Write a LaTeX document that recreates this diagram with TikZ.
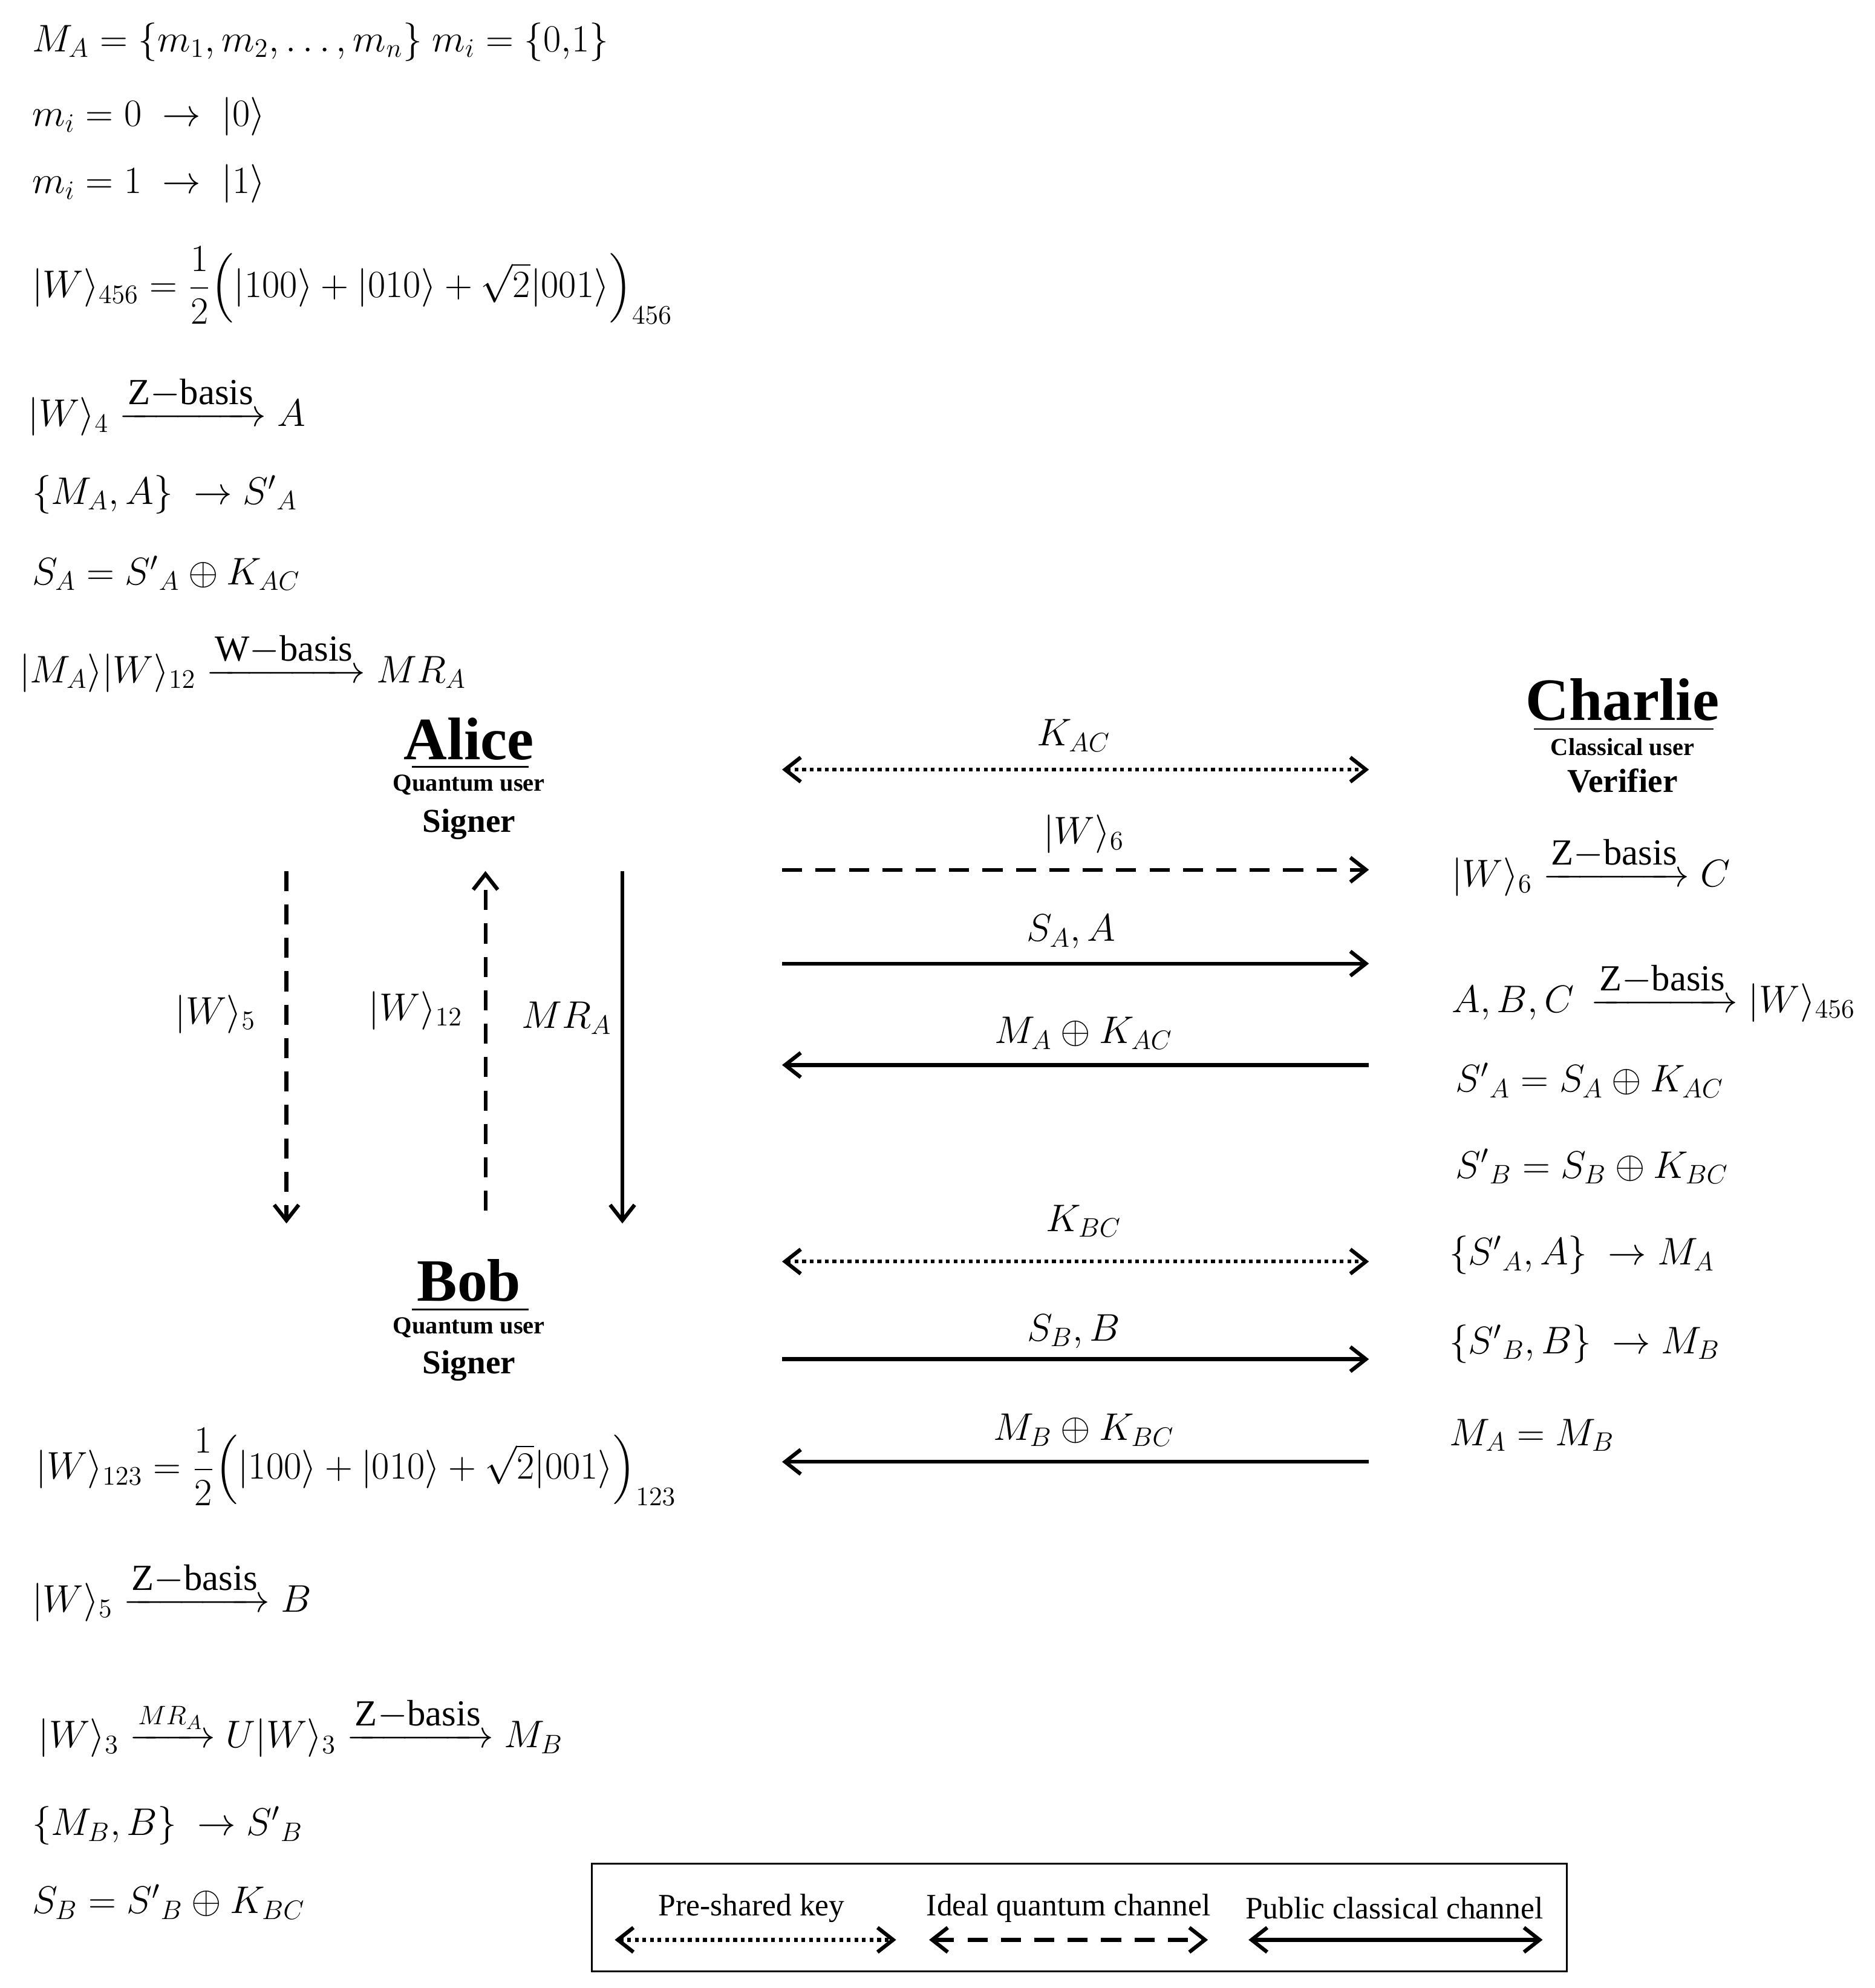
\documentclass[tikz,border=0pt]{standalone}
\usepackage{amsmath}
\usepackage{fontspec}
\setmainfont{Liberation Serif}
\usetikzlibrary{arrows.meta}
\begin{document}
\begin{tikzpicture}[x=0.02cm,y=-0.02cm,
  myeq/.style={anchor=west,inner sep=0pt,font=\fontsize{18}{22}\selectfont},
  mylab/.style={inner sep=0pt,font=\fontsize{18}{22}\selectfont},
  pname/.style={inner sep=1pt,font=\fontsize{27}{30}\selectfont\bfseries},
  psmall/.style={inner sep=1pt,font=\fontsize{11}{13}\selectfont\bfseries},
  prole/.style={inner sep=1pt,font=\fontsize{15}{18}\selectfont\bfseries},
  myar/.style={line width=1.7pt,-{Straight Barb[length=7pt,width=11pt,line width=1.7pt]}},
  mybr/.style={line width=1.7pt,{Straight Barb[length=7pt,width=11pt,line width=1.7pt]}-{Straight Barb[length=7pt,width=11pt,line width=1.7pt]}},
  mykey/.style={mybr,dash pattern=on 1.7pt off 1.7pt},
  myqu/.style={myar,dash pattern=on 9pt off 6pt},
  myleg/.style={inner sep=0pt,font=\fontsize{14}{17}\selectfont}]
\useasboundingbox (0,0) rectangle (1479,1568);
\newcommand{\zb}{\mbox{\fontsize{16.5}{20}\selectfont Z$-$basis}}
\newcommand{\wb}{\mbox{\fontsize{16.5}{20}\selectfont W$-$basis}}
% left top equations
\node[myeq] (e1) at (25,33) {$M_A=\{m_1,m_2,\dots,m_n\}\ m_i=\{0{,}1\}$};
\node[myeq] (e2) at (25,92) {$m_i=0\ \rightarrow\ |0\rangle$};
\node[myeq] (e3) at (25,145) {$m_i=1\ \rightarrow\ |1\rangle$};
\node[myeq] (e4) at (25,225) {$|W\rangle_{456}=\dfrac12\Big(|100\rangle+|010\rangle+\sqrt2|001\rangle\Big)_{456}$};
\node[myeq] (e5) at (22,320) {$|W\rangle_4\xrightarrow{\zb}A$};
\node[myeq] (e6) at (25,390) {$\{M_A,A\}\ \rightarrow S'{}_A$};
\node[myeq] (e7) at (25,452) {$S_A=S'{}_A\oplus K_{AC}$};
\node[myeq] (e8) at (15,522) {$|M_A\rangle|W\rangle_{12}\xrightarrow{\wb}MR_A$};
% parties
\node[pname] (alice) at (370,583) {Alice};
\node[psmall] (aq) at (370,619) {Quantum user};
\draw[line width=0.8pt] (325,605) -- (417,605);
\node[prole] (as) at (370,650) {Signer};
\node[pname] (bob) at (370,1010) {Bob};
\node[psmall] (bq) at (370,1047) {Quantum user};
\draw[line width=0.8pt] (325,1033) -- (417,1033);
\node[prole] (bs) at (370,1077) {Signer};
\node[pname] (charlie) at (1280,552) {Charlie};
\node[psmall] (cq) at (1280,589) {Classical user};
\draw[line width=0.8pt] (1210,575) -- (1352,575);
\node[prole] (cv) at (1280,616) {Verifier};
% vertical arrows
\coordinate (v1a) at (226,687); \coordinate (v1b) at (226,965);
\coordinate (v2a) at (383,955); \coordinate (v2b) at (383,687);
\coordinate (v3a) at (491,687); \coordinate (v3b) at (491,965);
\draw[myqu] (v1a) -- (v1b);
\draw[myqu] (v2a) -- (v2b);
\draw[myar] (v3a) -- (v3b);
\node[mylab] (l1) at (170,800) {$|W\rangle_5$};
\node[mylab] (l2) at (328,797) {$|W\rangle_{12}$};
\node[mylab] (l3) at (447,803) {$MR_A$};
% horizontal arrows
\foreach \n/\y in {a/607,b/686,c/760,d/840,e/995,f/1072,g/1153}{
  \coordinate (L\n) at (617,\y); \coordinate (R\n) at (1080,\y);}
\draw[mykey] (La) -- (Ra);
\draw[myqu] (Lb) -- (Rb);
\draw[myar] (Lc) -- (Rc);
\draw[myar] (Rd) -- (Ld);
\draw[mykey] (Le) -- (Re);
\draw[myar] (Lf) -- (Rf);
\draw[myar] (Rg) -- (Lg);
\node[mylab] (ha) at (847,580) {$K_{AC}$};
\node[mylab] (hb) at (855,658) {$|W\rangle_6$};
\node[mylab] (hc) at (845,735) {$S_A,A$};
\node[mylab] (hd) at (855,815) {$M_A\oplus K_{AC}$};
\node[mylab] (he) at (855,963) {$K_{BC}$};
\node[mylab] (hf) at (847,1050) {$S_B,B$};
\node[mylab] (hg) at (855,1128) {$M_B\oplus K_{BC}$};
% right equations
\node[myeq] (r1) at (1145,683) {$|W\rangle_6\xrightarrow{\zb}C$};
\node[myeq] (r2) at (1145,782) {$A,B,C\,\xrightarrow{\zb}|W\rangle_{456}$};
\node[myeq] (r3) at (1148,852) {$S'{}_A=S_A\oplus K_{AC}$};
\node[myeq] (r4) at (1148,920) {$S'{}_B=S_B\oplus K_{BC}$};
\node[myeq] (r5) at (1143,990) {$\{S'{}_A,A\}\ \rightarrow M_A$};
\node[myeq] (r6) at (1143,1060) {$\{S'{}_B,B\}\ \rightarrow M_B$};
\node[myeq] (r7) at (1143,1132) {$M_A=M_B$};
% bottom left
\node[myeq] (b1) at (28,1157) {$|W\rangle_{123}=\dfrac12\Big(|100\rangle+|010\rangle+\sqrt2|001\rangle\Big)_{123}$};
\node[myeq] (b2) at (25,1255) {$|W\rangle_5\xrightarrow{\zb}B$};
\node[myeq] (b3) at (30,1362) {$|W\rangle_3\xrightarrow{MR_A}U|W\rangle_3\xrightarrow{\zb}M_B$};
\node[myeq] (b4) at (25,1440) {$\{M_B,B\}\ \rightarrow S'{}_B$};
\node[myeq] (b5) at (25,1500) {$S_B=S'{}_B\oplus K_{BC}$};
% legend
\draw[line width=0.8pt] (467,1470) rectangle (1236,1555);
\node[myleg] (t1) at (593,1505) {Pre-shared key};
\node[myleg] (t2) at (843,1505) {Ideal quantum channel};
\node[myleg] (t3) at (1100,1505) {Public classical channel};
\coordinate (k1) at (485,1530); \coordinate (k2) at (707,1530);
\coordinate (k3) at (733,1530); \coordinate (k4) at (953,1530);
\coordinate (k5) at (985,1530); \coordinate (k6) at (1217,1530);
\draw[mykey] (k1) -- (k2);
\draw[mybr,dash pattern=on 9pt off 6pt] (k3) -- (k4);
\draw[mybr] (k5) -- (k6);
\end{tikzpicture}
\end{document}
